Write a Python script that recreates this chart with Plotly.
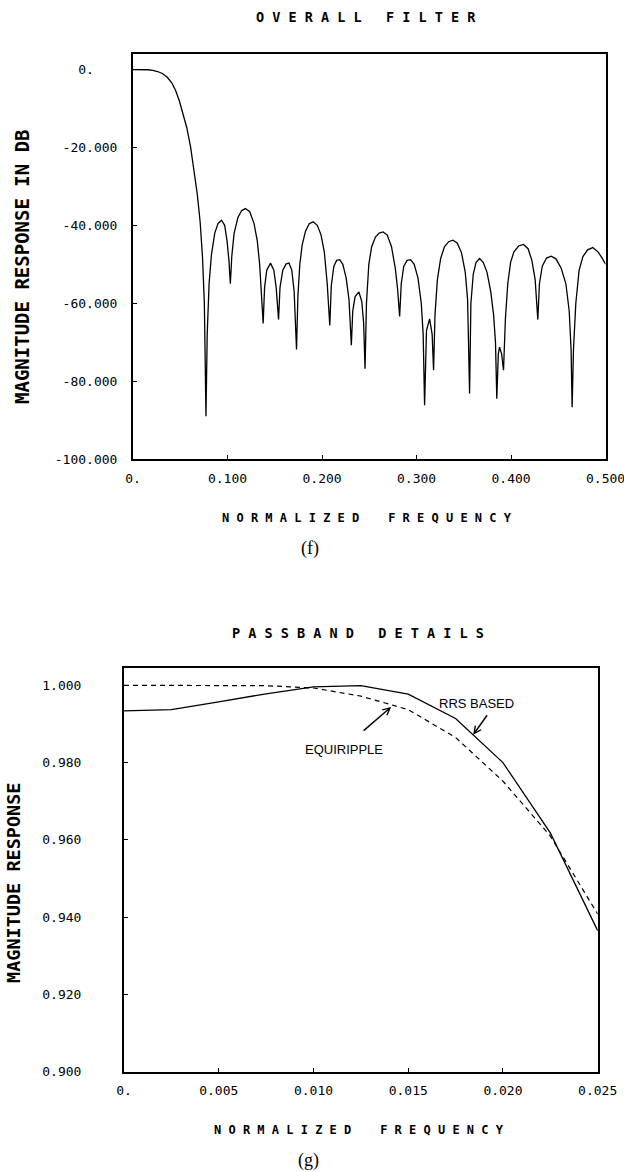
import plotly.graph_objects as go

# ---------------- (f) OVERALL FILTER : magnitude response in dB ----------------
FREQ_F = [
    0.000, 0.010, 0.016, 0.021, 0.026, 0.031, 0.036, 0.041, 0.045, 0.049,
    0.053, 0.057, 0.061, 0.0645, 0.068, 0.071, 0.0735, 0.0755, 0.0765, 0.0772,
    0.0785, 0.0805, 0.083, 0.0865, 0.090, 0.0937, 0.097, 0.0995, 0.1015, 0.1030,
    0.1045, 0.107, 0.111, 0.115, 0.119, 0.1235, 0.128, 0.1315, 0.134, 0.136, 0.1377,
    0.1392, 0.1415, 0.1455, 0.149, 0.1515, 0.1540,
    0.1555, 0.1585, 0.162, 0.165, 0.168, 0.1705, 0.1730,
    0.1745, 0.1765, 0.179, 0.1825, 0.1865, 0.1905, 0.195, 0.199, 0.2025, 0.2055, 0.2082,
    0.2098, 0.2125, 0.2155, 0.2187, 0.222, 0.2255, 0.2285, 0.2310,
    0.2325, 0.2350, 0.2390, 0.2420, 0.2440, 0.2455,
    0.2470, 0.2495, 0.2525, 0.2565, 0.2605, 0.2646, 0.2690, 0.2735, 0.2775, 0.2800, 0.2821,
    0.2838, 0.2865, 0.2900, 0.2937, 0.2975, 0.3015, 0.3050, 0.3070, 0.3085,
    0.3105, 0.3138, 0.3165, 0.3180,
    0.3195, 0.3220, 0.3255, 0.3295, 0.3340, 0.3385, 0.3430, 0.3475, 0.3515, 0.3540, 0.3561,
    0.3575, 0.3600, 0.3630, 0.3667, 0.3705, 0.3745, 0.3785, 0.3815, 0.3835, 0.3849,
    0.3865, 0.3878, 0.3900, 0.3920,
    0.3940, 0.3965, 0.3995, 0.4030, 0.4080, 0.4131, 0.4180, 0.4220, 0.4255, 0.4283,
    0.4300, 0.4330, 0.4375, 0.4424, 0.4475, 0.4530, 0.4580, 0.4615, 0.4635, 0.4646,
    0.4660, 0.4685, 0.4720, 0.4760, 0.4810, 0.4864, 0.4920, 0.4960, 0.5000,
]
MAG_DB = [
    0.0, 0.0, -0.05, -0.2, -0.5, -1.0, -1.9, -3.4, -5.3, -8.0,
    -11.3, -15.0, -20.0, -25.5, -32.0, -39.0, -48.0, -60.0, -72.0, -89.0,
    -68.0, -55.0, -47.5, -42.0, -39.5, -38.7, -40.0, -44.0, -49.0, -55.0,
    -48.0, -42.0, -38.0, -36.2, -35.7, -36.5, -39.5, -44.0, -50.0, -57.0, -65.2,
    -56.0, -51.5, -49.7, -51.5, -56.0, -64.2,
    -56.0, -51.5, -49.9, -49.7, -51.5, -57.0, -71.9,
    -58.0, -50.0, -45.0, -41.5, -39.6, -39.1, -40.0, -42.5, -47.0, -55.0, -65.7,
    -55.5, -50.5, -49.0, -48.8, -50.0, -53.5, -59.0, -70.8,
    -62.0, -58.3, -57.1, -59.5, -65.0, -76.8,
    -60.0, -50.0, -45.5, -43.0, -42.0, -41.7, -42.5, -45.5, -51.0, -56.5, -63.4,
    -55.0, -50.5, -49.0, -48.8, -50.0, -53.5, -60.0, -68.0, -86.2,
    -67.0, -64.0, -68.0, -77.2,
    -63.0, -54.0, -48.5, -45.5, -44.2, -43.8, -44.5, -47.0, -52.0, -59.0, -83.2,
    -60.0, -52.5, -49.5, -48.5, -49.5, -52.0, -57.0, -63.0, -70.0, -84.5,
    -73.0, -71.3, -73.0, -77.2,
    -64.0, -55.0, -49.5, -46.8, -45.3, -44.9, -46.0, -49.0, -54.0, -64.2,
    -55.0, -50.5, -48.4, -47.9, -48.6, -51.0, -55.0, -62.0, -72.0, -86.7,
    -72.0, -60.0, -51.5, -48.0, -46.3, -45.7, -46.8, -48.3, -50.0,
]
XTICKS_F = [0.0, 0.1, 0.2, 0.3, 0.4, 0.5]
XTICKTEXT_F = ["0.", "0.100", "0.200", "0.300", "0.400", "0.500"]
YTICKS_F = [0, -20, -40, -60, -80, -100]
YTICKTEXT_F = ["0.\u00a0\u00a0\u00a0", "-20.000", "-40.000", "-60.000", "-80.000", "-100.000"]

# ---------------- (g) PASSBAND DETAILS : linear magnitude ----------------
FREQ_G = [0.0, 0.0025, 0.005, 0.0075, 0.010, 0.0125, 0.015, 0.0175, 0.020, 0.0225, 0.025]
RRS_BASED = [0.9934, 0.9937, 0.9957, 0.9978, 0.9996, 0.9999, 0.9977, 0.9914, 0.9800, 0.9618, 0.9365]
EQUIRIPPLE = [1.0000, 1.0000, 1.0000, 0.9999, 0.9993, 0.9972, 0.9937, 0.9865, 0.9752, 0.9610, 0.9408]
XTICKS_G = [0.0, 0.005, 0.010, 0.015, 0.020, 0.025]
XTICKTEXT_G = ["0.", "0.005", "0.010", "0.015", "0.020", "0.025"]
YTICKS_G = [0.90, 0.92, 0.94, 0.96, 0.98, 1.00]
YTICKTEXT_G = ["0.900", "0.920", "0.940", "0.960", "0.980", "1.000"]

W, H = 624, 1172
MONO = "DejaVu Sans Mono"
NB = "\u00a0"


def spaced(words, word_gap):
    return (NB * word_gap).join(NB.join(w) for w in words)


def px(x):
    return x / W


def py(y):
    return 1 - y / H


fig = go.Figure()
fig.add_trace(go.Scatter(x=FREQ_F, y=MAG_DB, mode="lines",
                         line=dict(color="black", width=1.3), xaxis="x", yaxis="y"))
fig.add_trace(go.Scatter(x=FREQ_G, y=EQUIRIPPLE, mode="lines",
                         line=dict(color="black", width=1.2, dash="5px,4px"),
                         xaxis="x2", yaxis="y2"))
fig.add_trace(go.Scatter(x=FREQ_G, y=RRS_BASED, mode="lines",
                         line=dict(color="black", width=1.3), xaxis="x2", yaxis="y2"))

axis_common = dict(showline=True, linecolor="black", linewidth=2, mirror=True,
                   ticks="inside", ticklen=4, tickwidth=1, tickcolor="black",
                   showgrid=False, zeroline=False, automargin=False,
                   ticklabeloverflow="allow",
                   tickfont=dict(family=MONO, size=13, color="black"))

fig.update_layout(
    width=W, height=H, margin=dict(l=0, r=0, t=0, b=0),
    paper_bgcolor="white", plot_bgcolor="white", showlegend=False,
    xaxis=dict(domain=[px(133), px(605.6)], range=[0, 0.50001], anchor="y",
               tickmode="array", tickvals=XTICKS_F, ticktext=XTICKTEXT_F,
               ticklabelstandoff=6, **axis_common),
    yaxis=dict(domain=[py(459), py(54)], range=[-100, 4], anchor="x",
               tickmode="array", tickvals=YTICKS_F, ticktext=YTICKTEXT_F,
               ticklabelstandoff=11, **axis_common),
    xaxis2=dict(domain=[px(124), px(597.7)], range=[0, 0.025001], anchor="y2",
                tickmode="array", tickvals=XTICKS_G, ticktext=XTICKTEXT_G,
                ticklabelstandoff=6, **axis_common),
    yaxis2=dict(domain=[py(1071.7), py(668.3)], range=[0.9, 1.0044], anchor="x2",
                tickmode="array", tickvals=YTICKS_G, ticktext=YTICKTEXT_G,
                ticklabelstandoff=38, **axis_common),
)

title_font = dict(family=MONO, size=13.5, color="black", weight="bold")
axis_title_font = dict(family=MONO, size=12, color="black", weight="bold")
label_font = dict(family="Liberation Sans Narrow, Liberation Sans, sans-serif", size=13, color="black")

annots = [
    dict(text=spaced(["OVERALL", "FILTER"], 3), x=px(366), y=py(17), font=title_font),
    dict(text=spaced(["NORMALIZED", "FREQUENCY"], 4), x=px(367), y=py(518), font=axis_title_font),
    dict(text="(f)", x=px(310), y=py(548),
         font=dict(family="Liberation Serif", size=18, color="black")),
    dict(text="MAGNITUDE RESPONSE IN DB", x=px(22), y=py(267), textangle=-90,
         font=dict(family=MONO, size=19, color="black", weight="bold")),
    dict(text=spaced(["PASSBAND", "DETAILS"], 3), x=px(358), y=py(633), font=title_font),
    dict(text=spaced(["NORMALIZED", "FREQUENCY"], 4), x=px(359), y=py(1130), font=axis_title_font),
    dict(text="(g)", x=px(308), y=py(1160),
         font=dict(family="Liberation Serif", size=18, color="black")),
    dict(text="MAGNITUDE RESPONSE", x=px(13), y=py(883), textangle=-90,
         font=dict(family=MONO, size=18.5, color="black", weight="bold")),
]
for a in annots:
    fig.add_annotation(xref="paper", yref="paper", showarrow=False,
                       xanchor="center", yanchor="middle", **a)

# curve labels (bottom panel) with arrows
fig.add_annotation(xref="x2", yref="y2", x=0.01862, y=0.99535, text="RRS BASED",
                   showarrow=False, font=label_font)
fig.add_annotation(xref="x2", yref="y2", x=0.01843, y=0.9872, text="",
                   showarrow=True, ax=15, ay=-21, arrowhead=5, arrowsize=1,
                   arrowwidth=1.4, arrowcolor="black")
fig.add_annotation(xref="x2", yref="y2", x=0.01161, y=0.98333, text="EQUIRIPPLE",
                   showarrow=False, font=label_font)
fig.add_annotation(xref="x2", yref="y2", x=0.0141, y=0.9944, text="",
                   showarrow=True, ax=-29, ay=25, arrowhead=5, arrowsize=1,
                   arrowwidth=1.4, arrowcolor="black")

fig.write_html("out.html")
